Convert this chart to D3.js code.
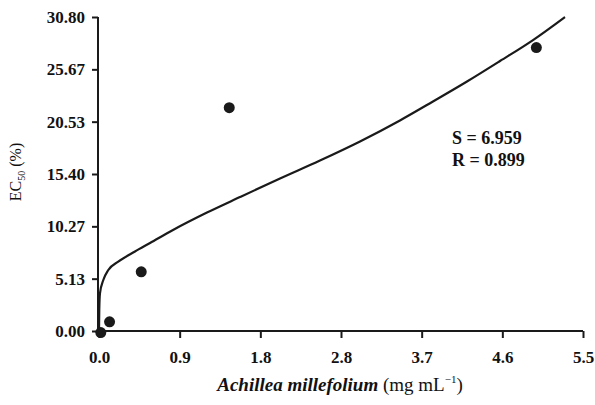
<!DOCTYPE html>
<html><head><meta charset="utf-8">
<script src="https://cdn.jsdelivr.net/npm/d3@7"></script>
<style>
html,body{margin:0;padding:0;background:#fff;}
svg{display:block;}
text{font-family:"Liberation Serif","Times New Roman",serif;fill:#111;}
</style></head>
<body>
<svg id="c" width="595" height="405"></svg>
<script>
const xTickLabels = ["0.0","0.9","1.8","2.8","3.7","4.6","5.5"];
const yTickLabels = ["0.00","5.13","10.27","15.40","20.53","25.67","30.80"];
const pointsX = [0.02, 0.12, 0.48, 1.48, 4.97];
const pointsY = [-0.15, 0.9, 5.8, 21.9, 27.8];
const fitX = [0.0, 0.003, 0.011, 0.049, 0.106, 0.219, 0.409, 0.580, 0.841, 1.227, 1.602, 2.057, 2.511, 2.966, 3.420, 3.795, 4.182, 4.557, 4.932, 5.295];
const fitY = [0.0, 2.06, 3.70, 5.00, 5.98, 6.80, 7.80, 8.63, 9.91, 11.62, 13.14, 14.96, 16.72, 18.59, 20.65, 22.51, 24.47, 26.48, 28.54, 30.80];
const statLines = ["S = 6.959", "R = 0.899"];

const svg = d3.select("#c");
const x = d3.scaleLinear().domain([0, 5.5]).range([99, 583]);
const y = d3.scaleLinear().domain([0, 30.8]).range([331, 17]);
const ink = "#1a1a1a";

const xTicks = xTickLabels.map((d, i) => i * 5.5 / 6);
const yTicks = yTickLabels.map((d, i) => i * 30.8 / 6);

// X axis
const xAxis = d3.axisBottom(x).tickValues(xTicks)
  .tickFormat((d, i) => xTickLabels[i]).tickSizeInner(7).tickSizeOuter(0).tickPadding(13);
const gx = svg.append("g").attr("transform", `translate(0,${y(0)})`).call(xAxis);
gx.select(".domain").attr("stroke", ink).attr("stroke-width", 2).attr("d", `M${x(0)-1},0H${x(5.5)}`);
gx.selectAll(".tick line").attr("stroke", ink).attr("stroke-width", 2);
gx.selectAll(".tick text").attr("fill", "#111").style("font-size", "17px").style("font-weight", "bold")
  .style("font-family", '"Liberation Serif",serif');

// Y axis
const yAxis = d3.axisLeft(y).tickValues(yTicks)
  .tickFormat((d, i) => yTickLabels[i]).tickSizeInner(6).tickSizeOuter(0).tickPadding(7);
const gy = svg.append("g").attr("transform", `translate(${x(0)-1},0)`).call(yAxis);
gy.select(".domain").attr("stroke", ink).attr("stroke-width", 2).attr("d", `M0,${y(0)+1}V${y(30.8)}`);
gy.selectAll(".tick line").attr("stroke", ink).attr("stroke-width", 2);
gy.selectAll(".tick text").attr("fill", "#111").style("font-size", "17px").style("font-weight", "bold")
  .style("font-family", '"Liberation Serif",serif');

// Fit curve
const fit = fitX.map((d, i) => [d, fitY[i]]);
svg.append("path").datum(fit)
  .attr("fill", "none").attr("stroke", ink).attr("stroke-width", 2.2)
  .attr("d", d3.line().x(d => x(d[0])).y(d => y(d[1])).curve(d3.curveMonotoneX));

// Points
svg.append("g").selectAll("circle").data(pointsX.map((d, i) => [d, pointsY[i]]))
  .join("circle").attr("cx", d => x(d[0])).attr("cy", d => y(d[1])).attr("r", 5.5).attr("fill", ink);

// Stats
svg.append("g").selectAll("text").data(statLines).join("text")
  .attr("x", 452).attr("y", (d, i) => 144 + i * 22)
  .style("font-size", "18px").style("font-weight", "bold").text(d => d);

// X title
const xt = svg.append("text").attr("x", 340).attr("y", 391).attr("text-anchor", "middle").style("font-size", "19px");
xt.append("tspan").style("font-style", "italic").style("font-weight", "bold").text("Achillea millefolium");
xt.append("tspan").text(" (mg mL");
xt.append("tspan").attr("dy", -8).style("font-size", "11px").text("\u22121");
xt.append("tspan").attr("dy", 8).text(")");

// Y title
const yt = svg.append("text").attr("transform", "translate(21,172) rotate(-90)").attr("text-anchor", "middle").style("font-size", "16px");
yt.append("tspan").text("EC");
yt.append("tspan").attr("dy", 4).style("font-size", "10px").text("50");
yt.append("tspan").attr("dy", -4).text(" (%)");
</script>
</body></html>
